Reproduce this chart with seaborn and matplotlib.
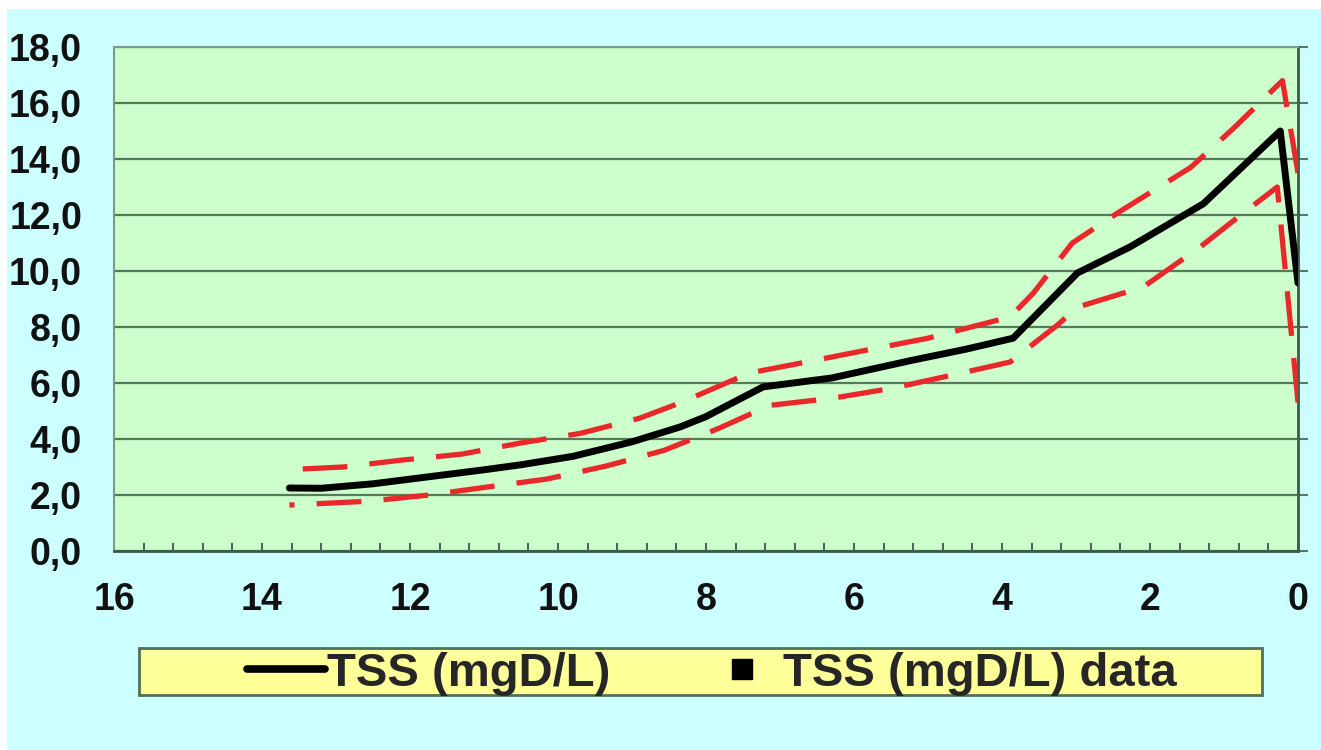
import numpy as np
import pandas as pd
import matplotlib
matplotlib.use("Agg")
import matplotlib.pyplot as plt
import seaborn as sns
from matplotlib.lines import Line2D
from matplotlib.patches import Rectangle
from matplotlib.ticker import MultipleLocator, FuncFormatter

# values
tss_x = [13.63, 13.2, 12.5, 11.9, 11.0, 10.5, 9.8, 9.0, 8.35, 8.0, 7.23,
         6.3, 5.2, 4.5, 3.85, 2.98, 2.27, 1.28, 0.24, 0.0]
tss_y = [2.25, 2.24, 2.4, 2.6, 2.9, 3.08, 3.38, 3.9, 4.43, 4.8, 5.86,
         6.18, 6.82, 7.2, 7.6, 9.93, 10.86, 12.4, 15.0, 9.57]

upper_x = [13.45, 12.9, 12.1, 11.3, 10.5, 9.7, 8.9, 8.35, 7.41, 6.64,
           5.82, 5.0, 3.89, 3.58, 3.05, 2.44, 1.45, 0.87, 0.21, 0.0]
upper_y = [2.93, 3.0, 3.25, 3.46, 3.86, 4.2, 4.74, 5.29, 6.36, 6.75,
           7.18, 7.6, 8.36, 9.2, 11.0, 12.07, 13.7, 15.1, 16.8, 13.5]

lower_x = [13.63, 12.55, 11.74, 10.97, 10.15, 9.34, 8.56, 7.81, 7.14, 6.28,
           5.47, 4.66, 3.89, 3.25, 2.98, 2.09, 1.32, 0.87, 0.28, 0.0]
lower_y = [1.64, 1.78, 2.0, 2.28, 2.57, 3.04, 3.6, 4.4, 5.2, 5.46,
           5.82, 6.29, 6.75, 8.07, 8.71, 9.43, 10.86, 11.8, 13.0, 5.3]

legend_labels = ["TSS (mgD/L)", "TSS (mgD/L) data"]

sns.set_style("white")
plt.rcParams["font.family"] = ["Liberation Sans", "DejaVu Sans"]
plt.rcParams["font.weight"] = "bold"

CYAN = "#CCFFFF"
GREEN = "#CCFFCC"
YELLOW = "#FFFF99"
GRID = "#587A5C"
RED = "#E8282A"

fig = plt.figure(figsize=(13.21, 7.5), dpi=100, facecolor="white")
fig.patches.append(Rectangle((7 / 1321, 0), 1, 1 - 9 / 750, transform=fig.transFigure,
                             facecolor=CYAN, edgecolor="none", zorder=-10))

ax = fig.add_axes([114 / 1321, 199 / 750, 1184 / 1321, 504 / 750])
ax.set_facecolor(GREEN)

df_mid = pd.DataFrame({"x": tss_x, "y": tss_y})
df_up = pd.DataFrame({"x": upper_x, "y": upper_y})
df_lo = pd.DataFrame({"x": lower_x, "y": lower_y})

dash = (0, (8.5, 4.2))
sns.lineplot(data=df_up, x="x", y="y", estimator=None, color=RED, linewidth=3.8,
             linestyle=dash, ax=ax, zorder=3)
sns.lineplot(data=df_lo, x="x", y="y", estimator=None, color=RED, linewidth=3.8,
             linestyle=dash, ax=ax, zorder=3)
sns.lineplot(data=df_mid, x="x", y="y", estimator=None, color="black", linewidth=5,
             ax=ax, zorder=4)

ax.set_xlim(16, 0)
ax.set_ylim(0, 18)
ax.set_xlabel("")
ax.set_ylabel("")

ax.xaxis.set_major_locator(MultipleLocator(2))
ax.xaxis.set_minor_locator(MultipleLocator(0.4))
ax.yaxis.set_major_locator(MultipleLocator(2))
ax.xaxis.set_major_formatter(FuncFormatter(lambda v, p: f"{v:.0f}"))
ax.yaxis.set_major_formatter(FuncFormatter(lambda v, p: f"{v:.1f}".replace(".", ",")))

ax.grid(axis="y", color=GRID, linewidth=1.6)
ax.grid(axis="x", visible=False)
ax.set_axisbelow(True)

ax.tick_params(axis="x", which="both", direction="in", length=6, width=1.3,
               color="#3d5a4a", labelsize=27, pad=22, bottom=True)
ax.tick_params(axis="y", which="major", direction="out", length=7, width=1.5,
               color=GRID, labelsize=27, pad=16, left=False, right=True,
               labelleft=True, labelright=False)
for lab in ax.get_xticklabels() + ax.get_yticklabels():
    lab.set_fontweight("bold")
    lab.set_color("#111111")

for side in ["left", "top"]:
    ax.spines[side].set_color("#7f9a88")
    ax.spines[side].set_linewidth(1.5)
for side in ["right", "bottom"]:
    ax.spines[side].set_color("#3d5a4a")
    ax.spines[side].set_linewidth(2)

# legend box below the plot
fig.patches.append(Rectangle((139 / 1321, 55 / 750), 1123 / 1321, 47 / 750,
                             transform=fig.transFigure, facecolor=YELLOW,
                             edgecolor="#50705A", linewidth=2, zorder=1))
handles = [Line2D([], [], color="black", linewidth=5.5),
           Line2D([], [], color="black", marker="s", linestyle="none", markersize=15)]
leg = fig.legend(handles, legend_labels, loc="center", ncol=2,
                 bbox_to_anchor=(712 / 1321, 76 / 750), frameon=False,
                 prop={"size": 34, "weight": "bold"}, handlelength=1.65,
                 handletextpad=0.05, columnspacing=1.95)
leg.set_zorder(5)

fig.savefig("out.png", dpi=100, facecolor="white")
